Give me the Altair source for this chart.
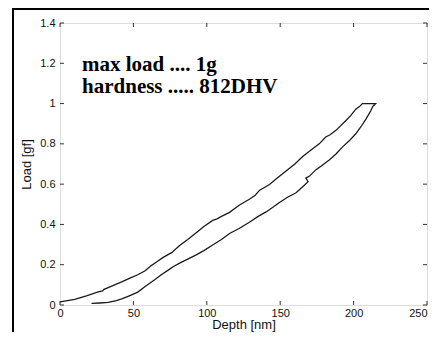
import altair as alt
import pandas as pd

# Loading curve (depth nm, load gf)
load_depth = [0, 5, 10, 18, 26, 29, 30, 34, 42, 48, 53, 58, 62, 66, 70, 76, 81.5, 87, 93, 98,
              104, 107, 110, 115.5, 122, 129, 133, 136, 142.7, 148, 154, 160, 165.3, 171,
              176.6, 181, 184, 188, 194.8, 198, 201.5, 204, 206]
load_val = [0.015, 0.022, 0.028, 0.045, 0.065, 0.07, 0.078, 0.09, 0.115, 0.135, 0.15, 0.17,
            0.195, 0.215, 0.235, 0.26, 0.295, 0.325, 0.36, 0.39, 0.42, 0.428, 0.44, 0.46,
            0.495, 0.525, 0.545, 0.57, 0.598, 0.63, 0.665, 0.70, 0.737, 0.77, 0.8, 0.834,
            0.845, 0.867, 0.916, 0.94, 0.972, 0.985, 1.0]
# Top plateau then unloading curve
unload_depth = [215, 213, 211.7, 208.4, 205, 201.5, 197, 192.5, 188, 183.4, 178, 174.4, 170,
                167.5, 169, 165, 160.8, 155, 149.5, 145, 140.4, 135, 129, 122, 115.5, 110,
                104, 98, 92.8, 87, 81.5, 77, 74.7, 69, 64.5, 58, 53, 46, 42, 38.5, 32.8, 27, 21.5]
unload_val = [1.0, 0.985, 0.964, 0.923, 0.885, 0.85, 0.815, 0.785, 0.75, 0.72, 0.69, 0.672,
              0.64, 0.63, 0.612, 0.585, 0.557, 0.535, 0.509, 0.485, 0.462, 0.44, 0.411, 0.38,
              0.355, 0.325, 0.298, 0.27, 0.249, 0.228, 0.208, 0.19, 0.178, 0.15, 0.125, 0.092,
              0.064, 0.042, 0.03, 0.022, 0.013, 0.01, 0.008]

x_ticks = [0, 50, 100, 150, 200, 250]
y_ticks = [0, 0.2, 0.4, 0.6, 0.8, 1.0, 1.2, 1.4]

note_lines = ["max load .... 1g", "hardness ..... 812DHV"]
note_x = [15, 15]
note_y = [1.162, 1.052]

depths = load_depth + unload_depth
loads = load_val + unload_val
curve = pd.DataFrame({"depth": depths, "load": loads, "i": list(range(len(depths)))})
notes = pd.DataFrame({"t": note_lines, "x": note_x, "y": note_y})
xt = pd.DataFrame({"v": x_ticks})
yt = pd.DataFrame({"v": y_ticks})

W, H = 367, 282
PL, PT, PR, PB = 52, 15, 2, 27
xscale = alt.Scale(domain=[0, 250], nice=False, zero=False)
yscale = alt.Scale(domain=[0, 1.4], nice=False, zero=False)

xaxis = alt.Axis(values=x_ticks, title="Depth [nm]", domain=False, ticks=False, grid=False,
                 labelFont="Liberation Sans", labelFontSize=11, labelColor="#111",
                 labelPadding=2,
                 labelAlign={"condition": {"test": "datum.value >= 250", "value": "right"},
                             "value": "center"},
                 titleFont="Liberation Sans", titleFontSize=13,
                 titleFontWeight="normal", titleColor="#111", titlePadding=0)
yaxis = alt.Axis(values=y_ticks, title="Load [gf]", domain=False, ticks=False, grid=False,
                 format="~g", labelFont="Liberation Sans", labelFontSize=11, labelColor="#111",
                 labelPadding=5, titleFont="Liberation Sans", titleFontSize=13,
                 titleFontWeight="normal", titleColor="#111", titlePadding=6)

line = alt.Chart(curve).mark_line(color="#1a1a1a", strokeWidth=1.3).encode(
    x=alt.X("depth:Q", scale=xscale, axis=xaxis),
    y=alt.Y("load:Q", scale=yscale, axis=yaxis),
    order="i:Q",
)

text = alt.Chart(notes).mark_text(
    align="left", baseline="alphabetic", font="Liberation Serif", fontWeight="bold",
    fontSize=21, color="#000"
).encode(
    x=alt.X("x:Q", scale=xscale),
    y=alt.Y("y:Q", scale=yscale),
    text="t:N",
)

tcol = "#333"
bt = alt.Chart(xt).mark_rule(color=tcol, strokeWidth=1).encode(
    x=alt.X("v:Q", scale=xscale), y=alt.value(H), y2=alt.value(H - 4))
tt = alt.Chart(xt).mark_rule(color=tcol, strokeWidth=1).encode(
    x=alt.X("v:Q", scale=xscale), y=alt.value(0), y2=alt.value(4))
lt = alt.Chart(yt).mark_rule(color=tcol, strokeWidth=1).encode(
    y=alt.Y("v:Q", scale=yscale), x=alt.value(0), x2=alt.value(4))
rt = alt.Chart(yt).mark_rule(color=tcol, strokeWidth=1).encode(
    y=alt.Y("v:Q", scale=yscale), x=alt.value(W), x2=alt.value(W - 4))

# outer frame: left and top edges only (the rest falls outside the picture)
frame_l = alt.Chart(pd.DataFrame({"a": [0]})).mark_rule(color="#000", strokeWidth=2).encode(
    x=alt.value(-47), y=alt.value(-PT + 1), y2=alt.value(H + PB))
frame_t = alt.Chart(pd.DataFrame({"a": [0]})).mark_rule(color="#000", strokeWidth=2).encode(
    y=alt.value(-PT + 1), x=alt.value(-48), x2=alt.value(W + PR))

chart = alt.layer(frame_l, frame_t, bt, tt, lt, rt, line, text).properties(
    width=W, height=H,
    autosize=alt.AutoSizeParams(type="none"),
    padding={"left": PL, "top": PT, "right": PR, "bottom": PB},
).configure_view(stroke="#333", strokeWidth=1).configure(background="white")

chart.save("out.html", embed_options={"renderer": "svg", "actions": False})
